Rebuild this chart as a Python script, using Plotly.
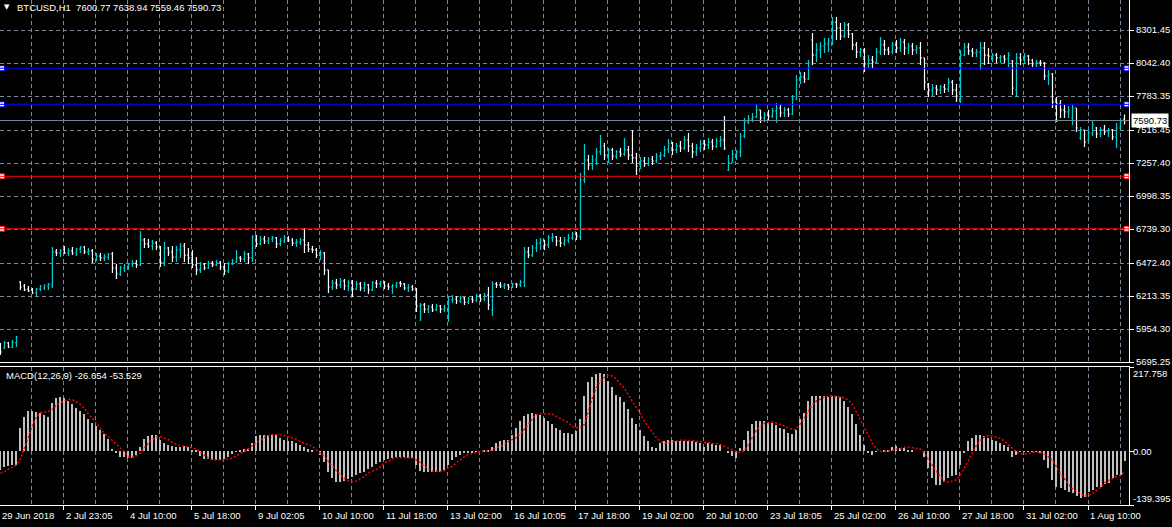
import plotly.graph_objects as go

# ---------------- data (2-hour bars) ----------------
bar_open = [
    5829, 5805, 5845, 5813, 5845, 6323, 6292, 6268, 6261, 6237,
    6268, 6276, 6292, 6300, 6559, 6551, 6575, 6551, 6567, 6551,
    6582, 6598, 6559, 6567, 6504, 6527, 6512, 6519, 6543, 6433,
    6386, 6433, 6449, 6465, 6472, 6457, 6653, 6622, 6606, 6629,
    6598, 6480, 6590, 6559, 6519, 6575, 6606, 6535, 6512, 6457,
    6418, 6465, 6433, 6472, 6457, 6480, 6441, 6410, 6465, 6480,
    6512, 6504, 6543, 6512, 6684, 6622, 6661, 6645, 6661, 6669,
    6622, 6645, 6669, 6653, 6629, 6637, 6653, 6614, 6582, 6575,
    6535, 6551, 6418, 6284, 6316, 6300, 6331, 6292, 6316, 6268,
    6308, 6276, 6300, 6261, 6316, 6308, 6323, 6292, 6284, 6292,
    6316, 6308, 6276, 6284, 6268, 6135, 6143, 6111, 6127, 6104,
    6135, 6111, 6119, 6182, 6190, 6174, 6198, 6166, 6190, 6182,
    6214, 6190, 6221, 6104, 6308, 6300, 6292, 6300, 6284, 6308,
    6300, 6323, 6559, 6535, 6590, 6629, 6653, 6614, 6669, 6677,
    6645, 6629, 6653, 6669, 6700, 6677, 7124, 7281, 7242, 7281,
    7344, 7391, 7320, 7360, 7312, 7344, 7328, 7360, 7320, 7297,
    7234, 7273, 7250, 7289, 7273, 7312, 7320, 7360, 7414, 7360,
    7391, 7375, 7438, 7391, 7344, 7375, 7407, 7399, 7422, 7391,
    7430, 7438, 7203, 7265, 7328, 7344, 7469, 7579, 7603, 7619,
    7674, 7611, 7634, 7626, 7666, 7689, 7650, 7674, 7642, 7760,
    7909, 7933, 7917, 8223, 8105, 8145, 8176, 8192, 8215, 8364,
    8317, 8254, 8341, 8270, 8184, 8129, 8145, 8035, 8066, 8050,
    8129, 8184, 8145, 8129, 8184, 8160, 8207, 8160, 8176, 8145,
    8160, 8082, 7878, 7831, 7846, 7831, 7854, 7838, 7893, 7831,
    7752, 8105, 8168, 8137, 8121, 8129, 8160, 8105, 8097, 8105,
    8082, 8090, 8074, 8058, 7831, 8082, 8066, 8097, 8066, 8035,
    8050, 8042, 7940, 7956, 7736, 7721, 7674, 7658, 7611, 7689,
    7454, 7517, 7438, 7493, 7532, 7485, 7517, 7501, 7517, 7462,
    7532, 7600.77,
]
bar_high = [
    5845, 5860, 5852, 5868, 5899, 6331, 6308, 6292, 6276, 6276,
    6300, 6300, 6316, 6598, 6582, 6582, 6606, 6590, 6598, 6590,
    6606, 6606, 6590, 6582, 6551, 6551, 6543, 6551, 6559, 6465,
    6449, 6465, 6472, 6496, 6496, 6724, 6669, 6661, 6653, 6645,
    6606, 6637, 6598, 6606, 6606, 6629, 6629, 6590, 6575, 6519,
    6480, 6472, 6488, 6488, 6496, 6488, 6472, 6480, 6504, 6575,
    6527, 6567, 6551, 6692, 6692, 6684, 6684, 6677, 6684, 6677,
    6669, 6692, 6684, 6669, 6661, 6669, 6747, 6637, 6606, 6590,
    6575, 6559, 6418, 6339, 6347, 6355, 6347, 6339, 6339, 6331,
    6323, 6323, 6308, 6331, 6339, 6331, 6331, 6316, 6308, 6323,
    6331, 6316, 6308, 6300, 6276, 6158, 6158, 6143, 6151, 6151,
    6143, 6143, 6206, 6221, 6214, 6214, 6206, 6206, 6214, 6229,
    6229, 6237, 6284, 6331, 6323, 6323, 6316, 6308, 6316, 6316,
    6339, 6598, 6598, 6614, 6661, 6669, 6653, 6692, 6708, 6684,
    6677, 6677, 6700, 6716, 6716, 7179, 7407, 7320, 7320, 7375,
    7477, 7414, 7375, 7375, 7360, 7375, 7454, 7391, 7517, 7336,
    7305, 7305, 7305, 7312, 7336, 7344, 7391, 7446, 7422, 7414,
    7430, 7469, 7493, 7414, 7407, 7438, 7438, 7454, 7446, 7454,
    7469, 7626, 7320, 7360, 7360, 7493, 7611, 7634, 7650, 7721,
    7674, 7658, 7674, 7689, 7728, 7713, 7697, 7689, 7791, 7948,
    7972, 7972, 8066, 8278, 8199, 8207, 8239, 8239, 8404, 8404,
    8356, 8364, 8356, 8278, 8207, 8160, 8160, 8105, 8097, 8160,
    8247, 8223, 8168, 8207, 8223, 8239, 8231, 8199, 8199, 8184,
    8207, 8082, 7885, 7878, 7870, 7870, 7878, 7925, 7909, 7878,
    8145, 8199, 8199, 8160, 8152, 8207, 8207, 8160, 8121, 8121,
    8105, 8105, 8129, 8066, 8121, 8121, 8121, 8105, 8074, 8066,
    8066, 8050, 7988, 7964, 7776, 7752, 7713, 7705, 7713, 7689,
    7540, 7517, 7517, 7595, 7540, 7540, 7556, 7532, 7524, 7571,
    7611, 7638.94,
]
bar_low = [
    5750, 5797, 5805, 5805, 5813, 6261, 6253, 6245, 6229, 6214,
    6253, 6261, 6261, 6276, 6527, 6519, 6543, 6527, 6535, 6527,
    6551, 6543, 6535, 6472, 6488, 6488, 6488, 6496, 6394, 6347,
    6370, 6402, 6418, 6441, 6433, 6449, 6590, 6590, 6575, 6575,
    6441, 6449, 6527, 6480, 6480, 6512, 6480, 6465, 6433, 6378,
    6394, 6418, 6425, 6441, 6449, 6418, 6378, 6394, 6457, 6472,
    6480, 6480, 6465, 6480, 6598, 6614, 6622, 6622, 6637, 6590,
    6606, 6629, 6637, 6606, 6598, 6614, 6551, 6559, 6551, 6512,
    6496, 6378, 6237, 6261, 6268, 6276, 6261, 6253, 6206, 6261,
    6253, 6245, 6229, 6253, 6276, 6284, 6268, 6261, 6229, 6276,
    6284, 6261, 6245, 6253, 6088, 6017, 6080, 6080, 6088, 6096,
    6080, 6088, 6009, 6158, 6151, 6158, 6143, 6151, 6158, 6166,
    6166, 6174, 6104, 6056, 6276, 6276, 6268, 6261, 6276, 6276,
    6284, 6284, 6512, 6519, 6559, 6575, 6575, 6590, 6637, 6606,
    6598, 6606, 6629, 6653, 6653, 6653, 7100, 7203, 7203, 7242,
    7320, 7281, 7257, 7281, 7289, 7305, 7312, 7281, 7257, 7163,
    7210, 7226, 7234, 7242, 7257, 7281, 7305, 7336, 7320, 7336,
    7344, 7360, 7344, 7297, 7312, 7344, 7360, 7367, 7360, 7375,
    7383, 7360, 7195, 7257, 7281, 7305, 7454, 7564, 7579, 7611,
    7571, 7579, 7595, 7611, 7571, 7619, 7619, 7619, 7634, 7752,
    7878, 7885, 7909, 8027, 8050, 8082, 8121, 8129, 8184, 8223,
    8223, 8239, 8239, 8145, 8082, 8090, 7972, 8003, 8003, 8042,
    8105, 8105, 8105, 8113, 8121, 8129, 8105, 8113, 8105, 8113,
    8027, 7831, 7776, 7783, 7791, 7799, 7807, 7815, 7791, 7736,
    7728, 8097, 8105, 8090, 8090, 7988, 8027, 8035, 8050, 8042,
    8042, 8042, 8011, 7791, 7776, 8027, 8035, 8027, 8011, 8011,
    8019, 7909, 7870, 7689, 7579, 7611, 7611, 7611, 7556, 7501,
    7438, 7383, 7422, 7469, 7454, 7462, 7477, 7462, 7438, 7375,
    7517, 7559.46,
]
bar_close = [
    5774, 5845, 5813, 5852, 5892, 6284, 6261, 6253, 6237, 6268,
    6292, 6300, 6308, 6559, 6551, 6567, 6551, 6567, 6551, 6582,
    6598, 6559, 6567, 6504, 6527, 6512, 6519, 6543, 6433, 6386,
    6433, 6449, 6465, 6472, 6457, 6653, 6622, 6606, 6629, 6598,
    6480, 6590, 6551, 6519, 6575, 6606, 6535, 6512, 6457, 6418,
    6465, 6433, 6472, 6457, 6480, 6441, 6410, 6465, 6488, 6512,
    6504, 6543, 6512, 6677, 6622, 6661, 6645, 6661, 6669, 6622,
    6645, 6669, 6653, 6629, 6637, 6653, 6614, 6582, 6575, 6535,
    6551, 6418, 6284, 6316, 6300, 6331, 6292, 6316, 6268, 6308,
    6276, 6300, 6261, 6316, 6308, 6323, 6292, 6284, 6292, 6316,
    6308, 6276, 6284, 6268, 6135, 6143, 6111, 6127, 6104, 6135,
    6111, 6119, 6182, 6190, 6174, 6198, 6166, 6190, 6182, 6214,
    6190, 6221, 6143, 6308, 6300, 6292, 6300, 6284, 6308, 6300,
    6323, 6559, 6535, 6590, 6629, 6653, 6614, 6669, 6677, 6645,
    6629, 6653, 6669, 6700, 6684, 7124, 7281, 7242, 7281, 7344,
    7391, 7320, 7360, 7312, 7344, 7328, 7360, 7320, 7297, 7234,
    7273, 7250, 7289, 7273, 7312, 7320, 7360, 7414, 7360, 7391,
    7375, 7438, 7391, 7344, 7375, 7407, 7399, 7422, 7391, 7430,
    7438, 7375, 7265, 7328, 7344, 7469, 7579, 7603, 7619, 7674,
    7611, 7634, 7626, 7666, 7689, 7650, 7674, 7642, 7760, 7909,
    7933, 7917, 8042, 8105, 8145, 8176, 8192, 8215, 8364, 8317,
    8254, 8341, 8270, 8184, 8129, 8145, 8035, 8066, 8050, 8129,
    8184, 8145, 8129, 8184, 8160, 8207, 8160, 8176, 8145, 8160,
    8082, 7893, 7831, 7846, 7831, 7854, 7838, 7893, 7831, 7783,
    8105, 8168, 8137, 8121, 8129, 8160, 8105, 8097, 8105, 8082,
    8090, 8074, 8105, 7846, 8082, 8066, 8097, 8066, 8035, 8050,
    8042, 7940, 7956, 7736, 7721, 7674, 7658, 7674, 7689, 7532,
    7517, 7422, 7493, 7556, 7485, 7517, 7501, 7517, 7462, 7532,
    7587, 7590.73,
]
macd_main = [
    -48, -42, -39, -37, -35, 60, 88, 104, 104, 102,
    100, 93, 88, 124, 137, 140, 137, 130, 121, 112,
    104, 95, 84, 74, 64, 56, 44, 32, 6, -6,
    -14, -16, -18, -18, -9, 11, 32, 38, 42, 42,
    28, 20, 17, 14, 12, 11, 13, 10, 4, 1,
    -12, -20, -21, -22, -22, -22, -21, -14, -7, -1,
    4, 5, 6, 20, 39, 42, 43, 43, 43, 42,
    34, 30, 27, 26, 21, 17, 12, 5, 2, 0,
    -10, -27, -55, -70, -79, -81, -77, -72, -68, -61,
    -57, -53, -46, -40, -33, -27, -24, -21, -17, -15,
    -15, -16, -17, -17, -35, -51, -53, -53, -53, -53,
    -53, -50, -35, -24, -15, -10, -5, -5, -3, -1,
    0, 2, 2, 12, 22, 25, 30, 30, 43, 61,
    77, 90, 97, 98, 97, 93, 87, 77, 70, 61,
    54, 48, 46, 45, 53, 82, 142, 178, 191, 200,
    202, 200, 181, 165, 146, 139, 126, 108, 87, 69,
    56, 38, 25, 12, 9, 22, 26, 30, 29, 25,
    27, 27, 27, 25, 23, 22, 12, 20, 18, 17,
    17, 0, -5, -12, -17, 9, 30, 51, 69, 77,
    77, 77, 74, 74, 67, 61, 58, 48, 44, 56,
    82, 100, 129, 142, 144, 144, 142, 141, 142, 143,
    139, 129, 113, 95, 69, 43, 17, -5, -10, -2,
    0, 2, 4, 12, 14, 9, 9, 4, 4, 0,
    0, -14, -43, -69, -87, -87, -79, -69, -64, -61,
    -35, -3, 25, 35, 41, 43, 39, 35, 29, 25,
    22, 17, 12, -14, -10, -2, -2, -2, -2, -2,
    -4, -23, -43, -74, -92, -96, -100, -105, -108, -115,
    -121, -118, -105, -100, -94, -92, -86, -82, -70, -61,
    -61, -26.654,
]
macd_signal = [
    -57, -54, -47, -42, -36, -20, 8, 38, 66, 87,
    100, 101, 103, 108, 119, 126, 131, 134, 133, 128,
    121, 111, 95, 85, 72, 56, 46, 37, 28, 18,
    8, -2, -14, -16, -12, -4, 8, 21, 30, 36,
    37, 33, 30, 23, 17, 14, 13, 11, 8, 6,
    -3, -11, -18, -22, -22, -22, -22, -20, -18, -12,
    -6, -2, 6, 15, 22, 30, 35, 40, 43, 43,
    43, 40, 37, 34, 31, 25, 22, 17, 12, 4,
    -5, -14, -27, -40, -51, -61, -71, -77, -79, -77,
    -71, -66, -56, -53, -48, -40, -30, -27, -20, -17,
    -17, -17, -17, -17, -23, -30, -40, -46, -51, -53,
    -53, -51, -43, -40, -30, -23, -14, -8, -5, -4,
    -1, 0, 0, 4, 9, 12, 17, 25, 30, 35,
    45, 56, 69, 85, 95, 97, 97, 97, 95, 90,
    85, 80, 74, 64, 61, 61, 69, 103, 139, 165,
    181, 191, 196, 194, 186, 173, 163, 145, 129, 113,
    95, 77, 61, 48, 35, 25, 20, 22, 25, 27,
    28, 28, 28, 27, 25, 25, 22, 22, 20, 20,
    17, 13, 9, 3, -2, -4, 3, 17, 36, 55,
    64, 72, 74, 76, 73, 70, 65, 60, 56, 57,
    70, 86, 104, 120, 130, 136, 140, 142, 142, 142,
    139, 138, 132, 120, 100, 80, 58, 38, 20, 6,
    -1, -1, 0, 2, 5, 8, 10, 11, 8, 7,
    5, -5, -22, -38, -53, -67, -79, -81, -78, -74,
    -62, -44, -23, -5, 15, 28, 37, 40, 39, 36,
    33, 26, 17, 6, -3, -7, -8, -6, -4, -2,
    -3, -8, -14, -25, -40, -59, -72, -87, -98, -104,
    -110, -115, -116, -110, -102, -94, -82, -76, -70, -66,
    -63, -53.529,
]
time_labels = [
    "29 Jun 2018", "2 Jul 23:05", "4 Jul 10:00", "5 Jul 18:00", "9 Jul 02:05",
    "10 Jul 10:00", "11 Jul 18:00", "13 Jul 02:00", "16 Jul 10:05", "17 Jul 18:00",
    "19 Jul 02:00", "20 Jul 10:00", "23 Jul 18:05", "25 Jul 02:00", "26 Jul 10:00",
    "27 Jul 18:00", "31 Jul 02:00", "1 Aug 10:00",
]
price_ticks = [8301.45, 8042.40, 7783.35, 7516.45, 7257.40, 6998.35,
               6739.30, 6472.40, 6213.35, 5954.30, 5695.25]
price_top = 8537.0
macd_ticks = [217.758, 0.0, -139.395]
blue_levels = [8001, 7718]
red_levels = [7153, 6741]
last_price = 7590.73
title_text = "BTCUSD,H1 \u00a07600.77 7638.94 7559.46 7590.73"
macd_text = "MACD(12,26,9) -26.654 -53.529"

# ---------------- styling ----------------
BG = "#000000"
GRID = "#778899"
BULL = "#00CED1"
BEAR = "#FFFFFF"
FONT = "Liberation Sans"
FS = 9.5
GDASH = "4px,3px"

n = len(bar_close)
bar_x = list(range(n))
X0 = -0.125                     # slot origin of the bar axis
x_range = [X0 + 0.02, X0 + 282.25]
span = x_range[1] - x_range[0]
label_x = [X0 + 16 * m for m in range(len(time_labels))]
label_paper = [max(0.0, (lx - x_range[0]) / span) for lx in label_x]

W, H = 1172, 527
ML, MR, MT, MB = 0, 43, 0, 22
PH = H - MT - MB
main_dom = [1 - 362 / PH, 1]
macd_dom = [0, (PH - 367) / PH]

fig = go.Figure()

fig.add_trace(go.Ohlc(
    x=bar_x, open=bar_open, high=bar_high, low=bar_low, close=bar_close,
    xaxis="x", yaxis="y", tickwidth=0.3,
    increasing=dict(line=dict(color=BULL, width=1.2)),
    decreasing=dict(line=dict(color=BEAR, width=1.2)),
    showlegend=False,
))

fig.add_trace(go.Bar(
    x=bar_x, y=macd_main, xaxis="x2", yaxis="y2", width=0.5,
    marker=dict(color="#C0C0C0", line=dict(width=0)), showlegend=False,
))
fig.add_trace(go.Scatter(
    x=bar_x, y=macd_signal, xaxis="x2", yaxis="y2", mode="lines",
    line=dict(color="#FF0000", width=1.5, dash="2px,2px"), showlegend=False,
))

# horizontal level lines
shapes = []
for lv, col in [(v, "#0000FF") for v in blue_levels] + [(v, "#FF0000") for v in red_levels]:
    shapes.append(dict(type="line", xref="paper", x0=0, x1=1, yref="y", y0=lv, y1=lv,
                       line=dict(color=col, width=1), layer="above"))
shapes.append(dict(type="line", xref="paper", x0=0, x1=1, yref="y", y0=last_price, y1=last_price,
                   line=dict(color=GRID, width=1), layer="above"))

# handles of the level lines
for levels, col in [(blue_levels, "#0000FF"), (red_levels, "#FF0000")]:
    hx, hy = [], []
    for lv in levels:
        hx += [bar_x[0] + 0.4, bar_x[-1] + 0.5]
        hy += [lv, lv]
    fig.add_trace(go.Scatter(
        x=hx, y=hy, xaxis="x", yaxis="y", mode="markers",
        marker=dict(symbol="square", size=5, color="#FFFFFF", line=dict(color=col, width=1)),
        showlegend=False, cliponaxis=False,
    ))

annotations = [
    dict(text="\u25BC", xref="paper", yref="paper", x=2 / 1129, y=1 - 7 / PH,
         xanchor="left", yanchor="middle", showarrow=False,
         font=dict(family="DejaVu Sans", size=7, color="#FFFFFF")),
    dict(text=title_text, xref="paper", yref="paper", x=15 / 1129, y=1 - 7 / PH,
         xanchor="left", yanchor="middle", showarrow=False,
         font=dict(family=FONT, size=FS, color="#FFFFFF")),
    dict(text=macd_text, xref="paper", yref="paper", x=4 / 1129, y=(PH - 375) / PH,
         xanchor="left", yanchor="middle", showarrow=False,
         font=dict(family=FONT, size=FS, color="#FFFFFF")),
    dict(text=f"{last_price:.2f}", xref="paper", yref="y", x=1, y=last_price,
         xanchor="left", yanchor="middle", xshift=2, showarrow=False,
         bgcolor="#FFFFFF", borderpad=1,
         font=dict(family=FONT, size=FS, color="#000000")),
]
for val, anc in zip(macd_ticks, ["top", "middle", "bottom"]):
    txt = f"{val:.3f}" if val != 0 else "0.00"
    annotations.append(dict(text=txt, xref="paper", yref="y2", x=1, y=val,
                            xanchor="left", yanchor=anc, xshift=3, borderpad=0,
                            showarrow=False,
                            font=dict(family=FONT, size=FS, color="#FFFFFF")))
for lp, lt in zip(label_paper, time_labels):
    annotations.append(dict(text=lt, xref="paper", yref="paper", x=lp, y=0,
                            xanchor="left", yanchor="top", yshift=-3, showarrow=False,
                            font=dict(family=FONT, size=FS, color="#FFFFFF")))

fig.update_layout(
    width=W, height=H, autosize=False,
    margin=dict(l=ML, r=MR, t=MT, b=MB, pad=0),
    paper_bgcolor=BG, plot_bgcolor=BG,
    showlegend=False, bargap=0,
    shapes=shapes, annotations=annotations,
    xaxis=dict(domain=[0, 1], range=x_range, anchor="y", showticklabels=False,
               tickmode="linear", tick0=X0, dtick=8, ticks="",
               showgrid=True, gridcolor=GRID, griddash=GDASH, gridwidth=1,
               showline=True, linecolor="#FFFFFF", linewidth=1, zeroline=False,
               rangeslider=dict(visible=False), fixedrange=True),
    xaxis2=dict(domain=[0, 1], range=x_range, anchor="y2", matches="x", showticklabels=False,
                tickmode="linear", tick0=X0, dtick=16, ticks="outside", ticklen=4,
                tickcolor="#FFFFFF", tickwidth=1,
                showgrid=True, gridcolor=GRID, griddash=GDASH, gridwidth=1,
                minor=dict(tick0=X0, dtick=8, showgrid=True, gridcolor=GRID,
                           griddash=GDASH, gridwidth=1, ticks=""),
                showline=True, mirror=True, linecolor="#FFFFFF", linewidth=1, zeroline=False,
                rangeslider=dict(visible=False), fixedrange=True),
    yaxis=dict(domain=main_dom, range=[price_ticks[-1], price_top], anchor="x", side="right",
               tickmode="array", tickvals=price_ticks, ticktext=[f"{v:.2f}" for v in price_ticks],
               ticks="outside", ticklen=4, tickcolor="#FFFFFF",
               tickfont=dict(family=FONT, size=FS, color="#FFFFFF"),
               showgrid=True, gridcolor=GRID, griddash=GDASH, gridwidth=1,
               showline=True, linecolor="#FFFFFF", linewidth=1, zeroline=False, fixedrange=True),
    yaxis2=dict(domain=macd_dom, range=[macd_ticks[-1], macd_ticks[0]], anchor="x2", side="right",
                tickmode="array", tickvals=macd_ticks, showticklabels=False,
                ticks="outside", ticklen=4, tickcolor="#FFFFFF",
                showgrid=False, showline=True, linecolor="#FFFFFF", linewidth=1,
                zeroline=False, fixedrange=True),
)

fig.write_html(
    "out.html",
    config={"displayModeBar": False},
    post_script="document.body.style.margin='0';document.body.style.overflow='hidden';",
)
